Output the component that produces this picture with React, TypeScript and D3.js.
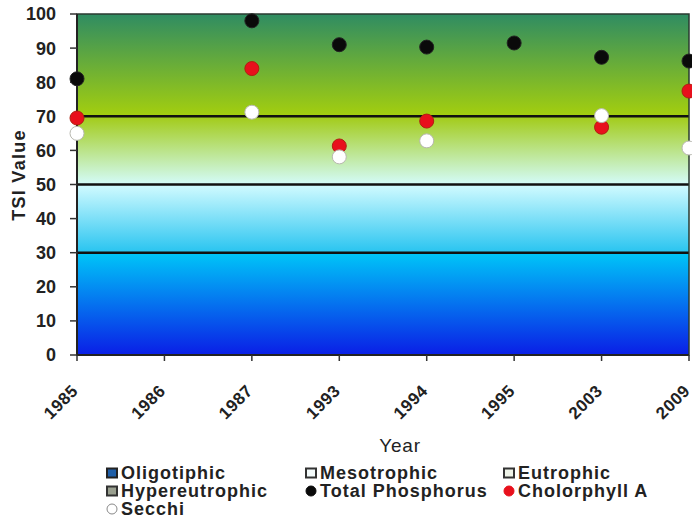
import React from "react";
import * as d3 from "d3";

const years = ["1985", "1986", "1987", "1993", "1994", "1995", "2003", "2009"];
const yTicks = [0, 10, 20, 30, 40, 50, 60, 70, 80, 90, 100];
const totalPhosphorus: (number | null)[] = [81, null, 98, 91, 90.3, 91.5, 87.3, 86.2];
const chlorophyllA: (number | null)[] = [69.5, null, 84, 61.3, 68.6, null, 66.8, 77.4];
const secchi: (number | null)[] = [65, null, 71.2, 58.1, 62.8, null, 70.2, 60.7];
const bands = [
  { name: "Oligotiphic", lo: 0, hi: 30, top: "#00c6f8", bottom: "#0a1ee6" },
  { name: "Mesotrophic", lo: 30, hi: 50, top: "#d2fbff", bottom: "#28c4f0" },
  { name: "Eutrophic", lo: 50, hi: 70, top: "#a2cb18", bottom: "#d4fcfa" },
  { name: "Hypereutrophic", lo: 70, hi: 100, top: "#2f8c62", bottom: "#a4cf0e" },
];

const W = 692, H = 531;
const L = 77, R = 689, T = 14, B = 355;
const FONT = "'Liberation Sans', Arial, sans-serif";

export default function App() {
  const x = d3.scalePoint<string>().domain(years).range([L, R]);
  const y = d3.scaleLinear().domain([0, 100]).range([B, T]);

  const series = [
    { name: "Total Phosphorus", values: totalPhosphorus, fill: "#0a0a0a", stroke: "#222" },
    { name: "Cholorphyll A", values: chlorophyllA, fill: "#e8101c", stroke: "#b02010" },
    { name: "Secchi", values: secchi, fill: "#ffffff", stroke: "#b8b8b0" },
  ];

  const legend = [
    { label: "Oligotiphic", kind: "sq", fill: "#1f5fa8", stroke: "#222" },
    { label: "Mesotrophic", kind: "sq", fill: "#f4fbfb", stroke: "#333" },
    { label: "Eutrophic", kind: "sq", fill: "#eef3e8", stroke: "#333" },
    { label: "Hypereutrophic", kind: "sq", fill: "#9aa090", stroke: "#333" },
    { label: "Total Phosphorus", kind: "c", fill: "#0a0a0a", stroke: "#0a0a0a" },
    { label: "Cholorphyll A", kind: "c", fill: "#e8101c", stroke: "#e8101c" },
    { label: "Secchi", kind: "c", fill: "#ffffff", stroke: "#888" },
  ];
  const legCols = [112, 311, 509];
  const legRows = [473, 491, 509];

  return (
    <svg width={W} height={H} style={{ position: "absolute", left: 0, top: 0, background: "#fff" }}>
      <defs>
        {bands.map((b, i) => (
          <linearGradient key={i} id={`g${i}`} x1="0" y1="0" x2="0" y2="1">
            <stop offset="0" stopColor={b.top} />
            <stop offset="1" stopColor={b.bottom} />
          </linearGradient>
        ))}
      </defs>
      {bands.map((b, i) => (
        <rect key={i} x={L} y={y(b.hi)} width={R - L} height={y(b.lo) - y(b.hi)} fill={`url(#g${i})`} />
      ))}
      {[30, 50, 70].map((v) => (
        <line key={v} x1={L} x2={R} y1={y(v)} y2={y(v)} stroke="#111" strokeWidth={2.5} />
      ))}
      <rect x={L} y={T} width={R - L} height={B - T} fill="none" stroke="#2a3a30" strokeWidth={1.5} />
      <line x1={L} x2={L} y1={T} y2={B + 1} stroke="#222" strokeWidth={2} />
      <line x1={L} x2={R} y1={B} y2={B} stroke="#222" strokeWidth={2} />
      {yTicks.map((t) => (
        <g key={t}>
          <line x1={L - 7} x2={L} y1={y(t)} y2={y(t)} stroke="#333" strokeWidth={1.5} />
          <text x={L - 21} y={y(t)} dy="0.36em" textAnchor="end" fontFamily={FONT} fontSize={18} fontWeight="bold" fill="#222">{t}</text>
        </g>
      ))}
      {years.map((yr) => (
        <g key={yr}>
          <line x1={x(yr)!} x2={x(yr)!} y1={B} y2={B + 6} stroke="#333" strokeWidth={1.5} />
          <text transform={`translate(${x(yr)! + 2},${B + 37}) rotate(-45)`} textAnchor="end" fontFamily={FONT} fontSize={17} fontWeight="bold" letterSpacing={0.5} fill="#222">{yr}</text>
        </g>
      ))}
      <text transform={`translate(25,175) rotate(-90)`} textAnchor="middle" fontFamily={FONT} fontSize={18} fontWeight="bold" letterSpacing={1.3} fill="#222">TSI Value</text>
      <text x={400} y={452} textAnchor="middle" fontFamily={FONT} fontSize={19} letterSpacing={0.8} fill="#222">Year</text>
      {series.map((s) =>
        s.values.map((v, i) =>
          v == null ? null : (
            <circle key={s.name + i} cx={x(years[i])!} cy={y(v)} r={7} fill={s.fill} stroke={s.stroke} strokeWidth={1} />
          )
        )
      )}
      {legend.map((l, i) => {
        const cx = legCols[i % 3];
        const cy = legRows[Math.floor(i / 3)];
        return (
          <g key={l.label}>
            {l.kind === "sq" ? (
              <rect x={cx - 5} y={cy - 4.5} width={10} height={9} fill={l.fill} stroke={l.stroke} strokeWidth={2} />
            ) : (
              <circle cx={cx} cy={cy} r={5} fill={l.fill} stroke={l.stroke} strokeWidth={1} />
            )}
            <text x={cx + 9} y={cy} dy="0.36em" fontFamily={FONT} fontSize={18} fontWeight="bold" letterSpacing={1} fill="#222">{l.label}</text>
          </g>
        );
      })}
    </svg>
  );
}
